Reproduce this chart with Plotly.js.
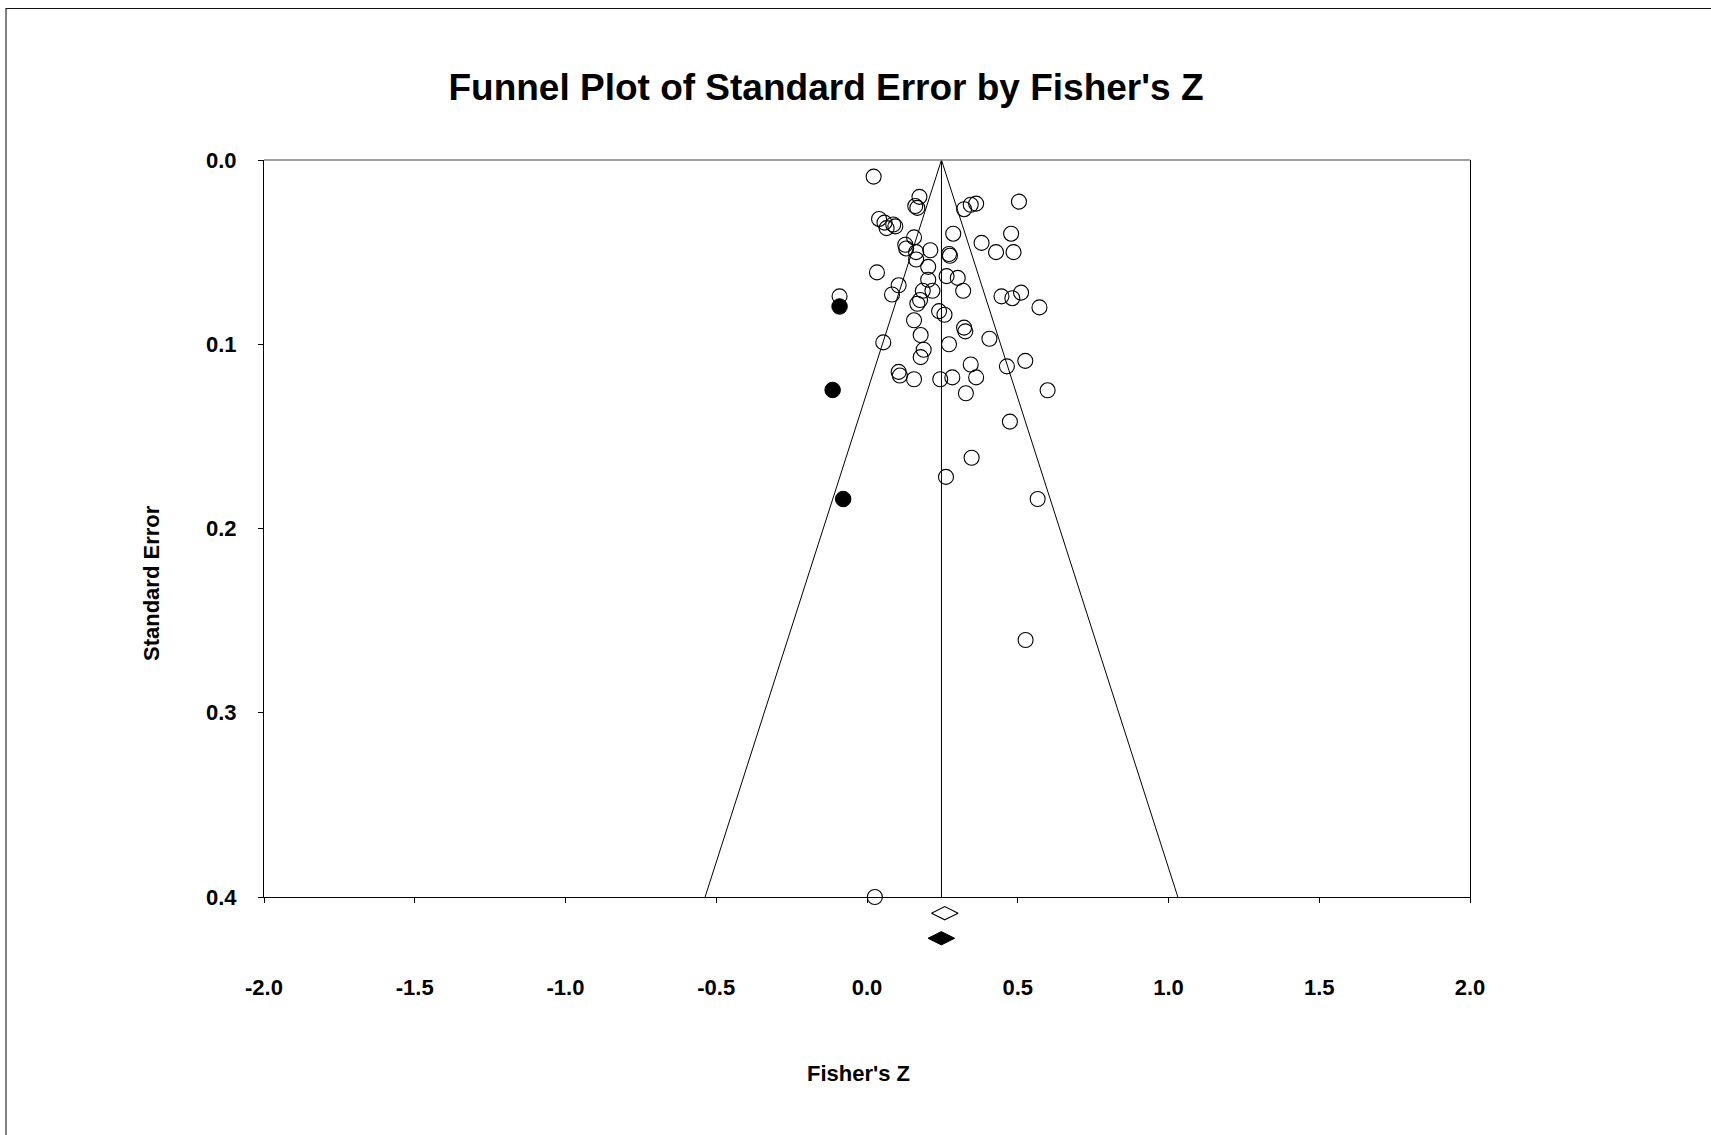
<!DOCTYPE html>
<html>
<head>
<meta charset="utf-8">
<script src="https://cdn.plot.ly/plotly-3.0.1.min.js"></script>
<style>
  html, body { margin: 0; padding: 0; background: #fff; }
  #wrap { position: relative; width: 1711px; height: 1135px; overflow: hidden; }
  #chart { position: absolute; left: 0; top: 0; width: 1711px; height: 1135px; }
  #frame { position: absolute; left: 5px; top: 8px; width: 1720px; height: 1140px;
           border-left: 2px solid #808080; border-top: 1.5px solid #111; pointer-events: none; }
</style>
</head>
<body>
<div id="wrap">
  <div id="chart"></div>
  <div id="frame"></div>
</div>
<script>
// Observed studies: Fisher's Z and standard error
const studyZ = [
  0.022, 0.174, 0.160, 0.167, 0.322, 0.344, 0.362, 0.504,
  0.040, 0.058, 0.065, 0.087, 0.094, 0.156, 0.127, 0.130,
  0.286, 0.478, 0.380, 0.428, 0.486, 0.210, 0.163, 0.163,
  0.272, 0.275, 0.203, 0.033, 0.203, 0.264, 0.301, 0.319,
  0.105, 0.083, 0.185, 0.217, -0.091, 0.167, 0.176, 0.446,
  0.482, 0.511, 0.572, 0.239, 0.257, 0.156, 0.322, 0.326,
  0.178, 0.406, 0.054, 0.272, 0.188, 0.178, 0.525, 0.344,
  0.464, 0.105, 0.109, 0.156, 0.283, 0.362, 0.243, 0.328,
  0.599, 0.474, 0.347, 0.262, 0.566, 0.526, 0.026
];
const studySE = [
  0.009, 0.020, 0.025, 0.026, 0.0267, 0.0243, 0.0237, 0.0226,
  0.032, 0.034, 0.037, 0.035, 0.036, 0.042, 0.046, 0.048,
  0.040, 0.040, 0.045, 0.050, 0.050, 0.049, 0.050, 0.054,
  0.051, 0.052, 0.058, 0.061, 0.065, 0.063, 0.064, 0.071,
  0.068, 0.073, 0.071, 0.071, 0.074, 0.078, 0.076, 0.074,
  0.075, 0.072, 0.080, 0.082, 0.084, 0.087, 0.091, 0.093,
  0.095, 0.097, 0.099, 0.100, 0.103, 0.107, 0.109, 0.111,
  0.112, 0.115, 0.117, 0.119, 0.118, 0.118, 0.119, 0.1266,
  0.125, 0.142, 0.1616, 0.172, 0.184, 0.2605, 0.400
];
// Imputed (trim-and-fill) studies
const imputedZ = [-0.091, -0.114, -0.079];
const imputedSE = [0.0795, 0.1248, 0.184];
// Summary estimates (drawn just below the SE axis)
const observedSummaryZ = [0.258];
const observedSummaryPos = [0.4088];
const adjustedSummaryZ = [0.2465];
const adjustedSummaryPos = [0.4224];
const funnelCenter = 0.247;
const seMax = 0.4;
// Tick labels
const xTicks = [-2, -1.5, -1, -0.5, 0, 0.5, 1, 1.5, 2];
const xTickText = ["-2.0", "-1.5", "-1.0", "-0.5", "0.0", "0.5", "1.0", "1.5", "2.0"];
const yTicks = [0, 0.1, 0.2, 0.3, 0.4];
const yTickText = ["0.0", "0.1", "0.2", "0.3", "0.4"];

const FONT = "Liberation Sans, Arial, sans-serif";

// geometry: plot area in pixels
const W = 1711, H = 1135;
const plotL = 264, plotR = 1470, plotT = 160, axisB = 897, extB = 960;
const areaH = extB - plotT;
const mainDomBottom = (extB - axisB) / areaH;
// secondary axis spans the extended area with the same scale as the main one
const extRange = seMax / (1 - mainDomBottom);

const traces = [
  {
    x: [funnelCenter - 1.96 * seMax, funnelCenter, funnelCenter + 1.96 * seMax],
    y: [seMax, 0, seMax],
    mode: "lines", line: {color: "#000", width: 1}, hoverinfo: "skip", cliponaxis: false
  },
  {
    x: [funnelCenter, funnelCenter], y: [0, seMax],
    mode: "lines", line: {color: "#000", width: 1}, hoverinfo: "skip", cliponaxis: false
  },
  {
    x: studyZ, y: studySE, mode: "markers", cliponaxis: false,
    marker: {symbol: "circle-open", size: 15, color: "#000", line: {color: "#000", width: 1.1}}
  },
  {
    x: imputedZ, y: imputedSE, mode: "markers", cliponaxis: false,
    marker: {symbol: "circle", size: 15.5, color: "#000", line: {color: "#000", width: 1}}
  },
  {
    x: observedSummaryZ, y: observedSummaryPos, yaxis: "y2", mode: "markers", cliponaxis: false,
    marker: {symbol: "diamond-wide-open", size: 19, color: "#000", line: {color: "#000", width: 1.1}}
  },
  {
    x: adjustedSummaryZ, y: adjustedSummaryPos, yaxis: "y2", mode: "markers", cliponaxis: false,
    marker: {symbol: "diamond-wide", size: 19, color: "#000", line: {color: "#000", width: 1}}
  }
];

const layout = {
  width: W, height: H,
  margin: {l: plotL, r: W - plotR, t: plotT, b: H - extB},
  paper_bgcolor: "#fff", plot_bgcolor: "rgba(0,0,0,0)",
  showlegend: false,
  font: {family: FONT, color: "#000"},
  title: {
    text: "Funnel Plot of Standard Error by Fisher's Z",
    font: {family: FONT, size: 37, weight: "bold", color: "#000"},
    xref: "container", yref: "container",
    x: 826 / W, y: 1 - 87 / H, xanchor: "center", yanchor: "middle"
  },
  xaxis: {
    range: [-2, 2], showgrid: false, zeroline: false, anchor: "y",
    showline: true, linecolor: "#000", linewidth: 1,
    ticks: "outside", ticklen: 5, tickcolor: "#000", tickwidth: 1,
    tickvals: xTicks, ticktext: xTickText,
    tickfont: {family: FONT, size: 22, weight: "bold", color: "#000"},
    ticklabelstandoff: 66
  },
  yaxis: {
    domain: [mainDomBottom, 1], anchor: "x",
    range: [seMax, 0], showgrid: false, zeroline: false,
    showline: true, mirror: true, linecolor: "#000", linewidth: 1,
    ticks: "outside", ticklen: 5, tickcolor: "#000", tickwidth: 1,
    tickvals: yTicks, ticktext: yTickText,
    tickfont: {family: FONT, size: 22, weight: "bold", color: "#000"},
    ticklabelstandoff: 17
  },
  yaxis2: {
    domain: [0, 1], anchor: "x", range: [extRange, 0], visible: false,
    showgrid: false, zeroline: false
  },
  shapes: [
    {type: "line", xref: "paper", yref: "paper", x0: 0, x1: 1, y0: 1, y1: 1,
     line: {color: "#808080", width: 1.5}}
  ],
  annotations: [
    {text: "Standard Error", xref: "paper", yref: "paper",
     x: (151 - plotL) / (plotR - plotL), y: (extB - 583) / areaH,
     xanchor: "center", yanchor: "middle", textangle: -90, showarrow: false,
     font: {family: FONT, size: 22, weight: "bold", color: "#000"}},
    {text: "Fisher's Z", xref: "paper", yref: "paper",
     x: (858 - plotL) / (plotR - plotL), y: (extB - 1073) / areaH,
     xanchor: "center", yanchor: "middle", showarrow: false,
     font: {family: FONT, size: 22, weight: "bold", color: "#000"}}
  ]
};

Plotly.newPlot("chart", traces, layout, {displayModeBar: false, staticPlot: true});
</script>
</body>
</html>
